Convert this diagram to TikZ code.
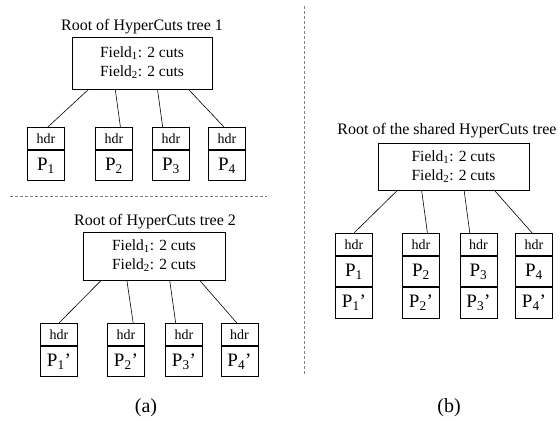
\documentclass[tikz,border=0pt]{standalone}
\usepackage{fontspec}
\setmainfont{Liberation Serif}
\usetikzlibrary{calc}

\tikzset{
  treetitle/.style={font=\fontsize{16}{18}\selectfont},
  rootbox/.style={draw, line width=.8pt, align=center, inner sep=0pt,
    font=\fontsize{15.5}{19}\selectfont},
  hdrbox/.style={draw, line width=.8pt, minimum width=37pt, minimum height=22pt,
    inner sep=0pt, anchor=north, font=\fontsize{14}{16}\selectfont},
  pktbox/.style={draw, line width=.8pt, minimum width=37pt, minimum height=30.5pt,
    inner sep=0pt, anchor=north, font=\fontsize{19}{22}\selectfont},
  link/.style={line width=.6pt},
  sepline/.style={gray, line width=.8pt, dash pattern=on 3pt off 2pt},
  caption/.style={font=\fontsize{20}{24}\selectfont}
}

\begin{document}
\begin{tikzpicture}[x=1pt,y=-1pt]
  \useasboundingbox (0,0) rectangle (560,422);

      % (a) first tree
      \node[treetitle] (ta) at (142,27) {Root of HyperCuts tree 1};
      \node[rootbox, minimum width=140pt, minimum height=52pt] (ra) at (142,63)
        {Field\textsubscript{1}: 2 cuts\\Field\textsubscript{2}: 2 cuts};
      \foreach \i/\x/\a/\b in {1/46/.12/.55, 2/114/.31/.67, 3/171/.61/.28, 4/227/.83/.42} {
        \node[hdrbox] (ha\i) at (\x,127) {hdr};
        \node[pktbox] (pa\i) at (ha\i.south) {P\textsubscript{\i}};
        \draw[link] ($(ra.south west)!\a!(ra.south east)$) -- ($(ha\i.north west)!\b!(ha\i.north east)$);
      }

      \draw[sepline] (10,196) -- (267,196);

      % (a) second tree
      \node[treetitle] (tb) at (155,222) {Root of HyperCuts tree 2};
      \node[rootbox, minimum width=142pt, minimum height=48pt] (rb) at (154,256)
        {Field\textsubscript{1}: 2 cuts\\Field\textsubscript{2}: 2 cuts};
      \foreach \i/\x/\a/\b in {1/59/.13/.5, 2/126/.31/.69, 3/184/.61/.28, 4/239.5/.82/.43} {
        \node[hdrbox] (hb\i) at (\x,323) {hdr};
        \node[pktbox] (pb\i) at (hb\i.south) {P\textsubscript{\i}'};
        \draw[link] ($(rb.south west)!\a!(rb.south east)$) -- ($(hb\i.north west)!\b!(hb\i.north east)$);
      }

      \draw[sepline] (304,6) -- (304,375);

      % (b) shared tree
      \node[treetitle] (tc) at (447,131) {Root of the shared HyperCuts tree};
      \node[rootbox, minimum width=151pt, minimum height=47pt] (rc) at (453.5,166.5)
        {Field\textsubscript{1}: 2 cuts\\Field\textsubscript{2}: 2 cuts};
      \foreach \i/\x/\a/\b in {1/354/.13/.5, 2/421/.29/.67, 3/478.5/.57/.27, 4/534/.77/.45} {
        \node[hdrbox] (hc\i) at (\x,233) {hdr};
        \node[pktbox] (pc\i) at (hc\i.south) {P\textsubscript{\i}};
        \node[pktbox] (qc\i) at (pc\i.south) {P\textsubscript{\i}'};
        \draw[link] ($(rc.south west)!\a!(rc.south east)$) -- ($(hc\i.north west)!\b!(hc\i.north east)$);
      }

      \node[caption] (capa) at (146,408) {(a)};
      \node[caption] (capb) at (449,408) {(b)};

\end{tikzpicture}
\end{document}
